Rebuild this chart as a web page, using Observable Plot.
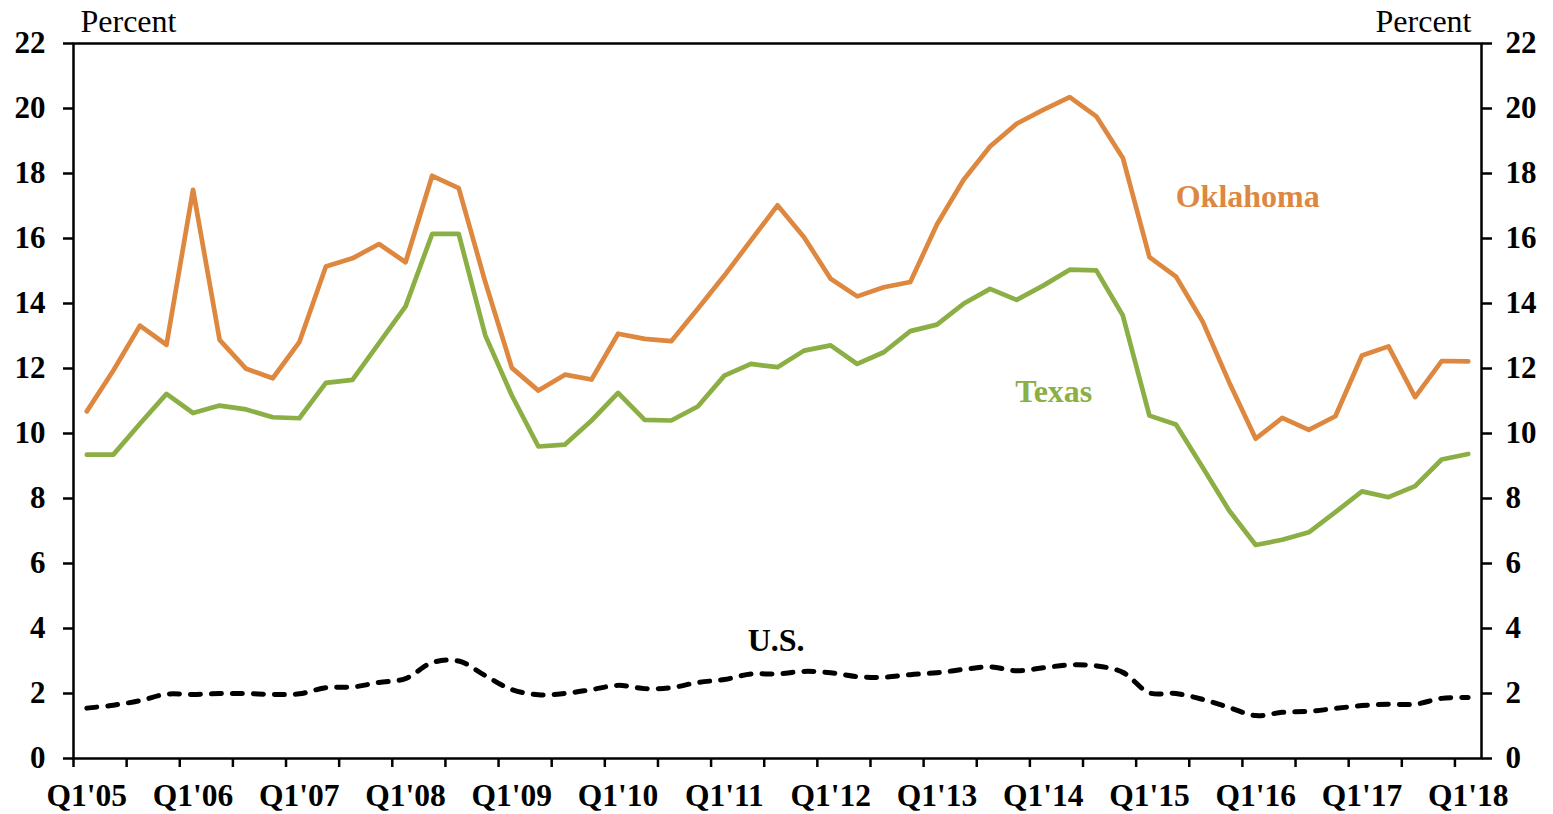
<!DOCTYPE html>
<html>
<head>
<meta charset="utf-8">
<script src="https://cdn.jsdelivr.net/npm/d3@7"></script>
<script src="https://cdn.jsdelivr.net/npm/@observablehq/plot@0.6"></script>
<style>
  html, body { margin: 0; padding: 0; background: #fff; }
  #chart svg { display: block; }
</style>
</head>
<body>
<div id="chart"></div>
<script>
// Category labels (quarters Q1'05 ... Q1'18)
const years = ["05","06","07","08","09","10","11","12","13","14","15","16","17","18"];
const quarterNames = ["Q1","Q2","Q3","Q4"];
const quarters = years.flatMap(y => quarterNames.map(q => `${q}'${y}`)).slice(0, 53);

// Series values (percent)
const oklahoma = [10.68, 11.94, 13.32, 12.73, 17.50, 12.88, 11.99, 11.70, 12.81, 15.14,
  15.39, 15.83, 15.27, 17.93, 17.55, 14.66, 12.02, 11.32, 11.81, 11.66,
  13.07, 12.91, 12.84, 13.84, 14.86, 15.94, 17.02, 16.04, 14.76, 14.22,
  14.50, 14.66, 16.43, 17.80, 18.83, 19.53, 19.96, 20.35, 19.76, 18.48,
  15.43, 14.83, 13.45, 11.58, 9.84, 10.48, 10.11, 10.53, 12.40, 12.68,
  11.12, 12.23, 12.22];
const texas = [9.35, 9.35, 10.30, 11.22, 10.63, 10.86, 10.74, 10.50, 10.47, 11.56,
  11.65, 12.78, 13.91, 16.14, 16.14, 13.02, 11.17, 9.60, 9.66, 10.40,
  11.25, 10.42, 10.40, 10.83, 11.78, 12.14, 12.04, 12.55, 12.71, 12.14,
  12.50, 13.15, 13.35, 13.99, 14.45, 14.11, 14.55, 15.04, 15.02, 13.63,
  10.55, 10.28, 8.96, 7.63, 6.57, 6.73, 6.96, 7.58, 8.22, 8.04,
  8.38, 9.20, 9.37];
const us = [1.55, 1.64, 1.78, 1.98, 1.97, 2.00, 2.00, 1.97, 1.99, 2.18,
  2.20, 2.34, 2.46, 2.95, 3.00, 2.55, 2.12, 1.96, 2.00, 2.12,
  2.25, 2.15, 2.18, 2.34, 2.43, 2.60, 2.60, 2.68, 2.64, 2.52,
  2.50, 2.58, 2.64, 2.74, 2.82, 2.70, 2.79, 2.88, 2.85, 2.65,
  2.02, 2.00, 1.82, 1.57, 1.32, 1.42, 1.45, 1.54, 1.63, 1.67,
  1.67, 1.85, 1.88];

// Axis tick values
const yTicks = [0, 2, 4, 6, 8, 10, 12, 14, 16, 18, 20, 22];
const xLabelIdx = quarters.map((q, i) => i).filter(i => quarters[i].startsWith("Q1"));
const xTickMarks = quarters.map((q, i) => i - 0.5).filter((v, i) => i % 2 === 0);

// Series labels
const seriesLabels = [
  {name: "Oklahoma", x: 43.7, y: 17.3, color: "#DE873F"},
  {name: "Texas", x: 36.4, y: 11.3, color: "#8BAF44"},
  {name: "U.S.", x: 25.95, y: 3.63, color: "#000000"}
];

const font = "Liberation Serif, Times New Roman, serif";

const chart = Plot.plot({
  width: 1553,
  height: 814,
  marginLeft: 73,
  marginRight: 72,
  marginTop: 43,
  marginBottom: 56,
  style: {fontFamily: font, fontSize: "31px", fontWeight: "bold", color: "#000", background: "#fff"},
  x: {type: "linear", domain: [-0.5, 52.5]},
  y: {domain: [0, 22]},
  marks: [
    Plot.axisY({anchor: "left", ticks: yTicks, tickFormat: d => String(d), tickSize: 10, tickPadding: 18, strokeWidth: 2.5, label: null, fontSize: 31, fontWeight: "bold"}),
    Plot.axisY({anchor: "right", ticks: yTicks, tickFormat: d => String(d), tickSize: 10, tickPadding: 14, strokeWidth: 2.5, label: null, fontSize: 31, fontWeight: "bold"}),
    Plot.axisX({anchor: "bottom", ticks: xTickMarks, tickSize: 9, strokeWidth: 2.5, text: null, label: null}),
    Plot.axisX({anchor: "bottom", ticks: xLabelIdx, tickFormat: i => quarters[i], tickSize: 0, tickPadding: 25, label: null, fontSize: 31.5, fontWeight: "bold"}),
    Plot.frame({stroke: "#000", strokeWidth: 2.5}),
    Plot.lineY(oklahoma, {x: (d, i) => i, y: d => d, stroke: "#DE873F", strokeWidth: 4.7, strokeLinejoin: "round", strokeLinecap: "round"}),
    Plot.lineY(texas, {x: (d, i) => i, y: d => d, stroke: "#8BAF44", strokeWidth: 4.7, strokeLinejoin: "round", strokeLinecap: "round"}),
    Plot.lineY(us, {x: (d, i) => i, y: d => d, stroke: "#000", strokeWidth: 5, strokeDasharray: "10,11", strokeLinecap: "round", curve: "catmull-rom"}),
    Plot.text(seriesLabels, {x: "x", y: "y", text: "name", fill: "color", fontSize: 32, fontWeight: "bold", textAnchor: "middle", lineAnchor: "middle"}),
    Plot.text(["Percent"], {frameAnchor: "top-left", text: d => d, dx: 7, dy: -22, textAnchor: "start", lineAnchor: "middle", fontWeight: "normal", fontSize: 32}),
    Plot.text(["Percent"], {frameAnchor: "top-right", text: d => d, dx: -10, dy: -22, textAnchor: "end", lineAnchor: "middle", fontWeight: "normal", fontSize: 32})
  ]
});
document.getElementById("chart").appendChild(chart);
</script>
</body>
</html>
